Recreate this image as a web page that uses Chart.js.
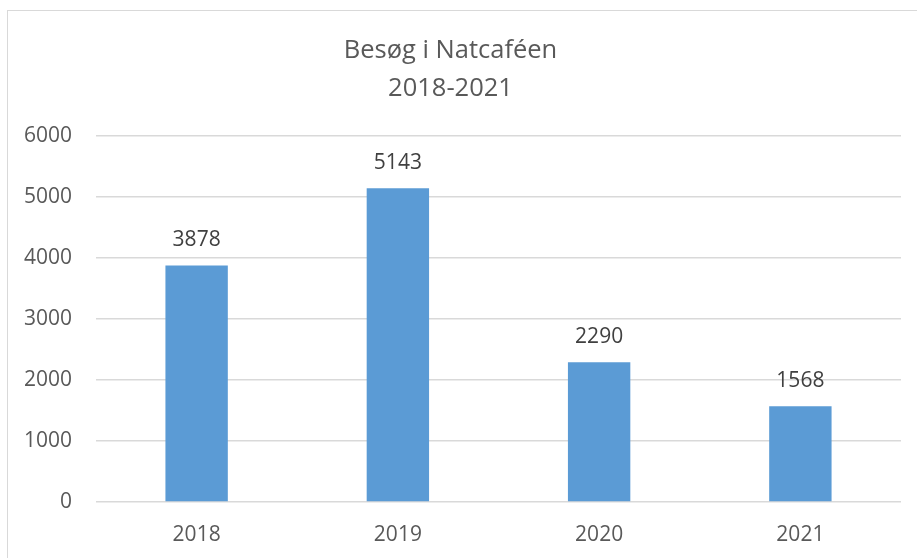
<!DOCTYPE html>
<html>
<head>
<meta charset="utf-8">
<script src="https://cdn.jsdelivr.net/npm/chart.js@4/dist/chart.umd.min.js"></script>
<style>
    html, body { margin: 0; padding: 0; background: #fff; }
    #wrap { position: relative; width: 917px; height: 558px; overflow: hidden; }
    #frame { position: absolute; left: 7px; top: 10px; width: 930px; height: 580px; border: 1px solid #d9d9d9; }
    canvas { position: absolute; left: 0; top: 0; }
</style>
</head>
<body>
<div id="wrap">
    <div id="frame"></div>
    <canvas id="chart" width="917" height="558"></canvas>
</div>
<script>
const years = ["2018", "2019", "2020", "2021"];
const visits = [3878, 5143, 2290, 1568];
const titleLines = ["Besøg i Natcaféen", "2018-2021"];
const yTicks = [0, 1000, 2000, 3000, 4000, 5000, 6000];

const fontFamily = "'Open Sans', Lato, sans-serif";

// Draw the value above each bar
const valueLabels = {
    id: "valueLabels",
    afterDatasetsDraw(chart) {
        const ctx = chart.ctx;
        const meta = chart.getDatasetMeta(0);
        ctx.save();
        ctx.font = "21px " + fontFamily;
        ctx.fillStyle = "#404040";
        ctx.textAlign = "center";
        ctx.textBaseline = "middle";
        meta.data.forEach((bar, i) => {
            ctx.fillText(String(visits[i]), bar.x, bar.y - 25);
        });
        ctx.restore();
    }
};

new Chart(document.getElementById("chart"), {
    type: "bar",
    data: {
        labels: years,
        datasets: [{
            data: visits,
            backgroundColor: "#5b9bd5",
            borderWidth: 0,
            barPercentage: 0.31,
            categoryPercentage: 1
        }]
    },
    options: {
        responsive: false,
        animation: false,
        layout: { padding: { left: 0, right: 16, top: 0, bottom: 14 } },
        plugins: {
            legend: { display: false },
            tooltip: { enabled: false },
            title: {
                display: true,
                text: titleLines,
                color: "#595959",
                font: { family: fontFamily, size: 25.5, weight: "normal", lineHeight: 38 / 25.5 },
                padding: { top: 32, bottom: 28 }
            }
        },
        scales: {
            x: {
                afterFit(scale) { scale.height = 42; },
                grid: { display: false, drawTicks: false },
                border: { display: false },
                ticks: {
                    color: "#595959",
                    padding: 20,
                    maxRotation: 0,
                    font: { family: fontFamily, size: 21 }
                }
            },
            y: {
                min: 0,
                max: 6000,
                afterFit(scale) { scale.width = 96; },
                afterBuildTicks(scale) { scale.ticks = yTicks.map(v => ({ value: v })); },
                grid: { color: "#d9d9d9", lineWidth: 1.5, drawTicks: false },
                border: { display: false },
                ticks: {
                    color: "#595959",
                    padding: 24,
                    font: { family: fontFamily, size: 21 },
                    callback: value => String(value)
                }
            }
        }
    },
    plugins: [valueLabels]
});
</script>
</body>
</html>
